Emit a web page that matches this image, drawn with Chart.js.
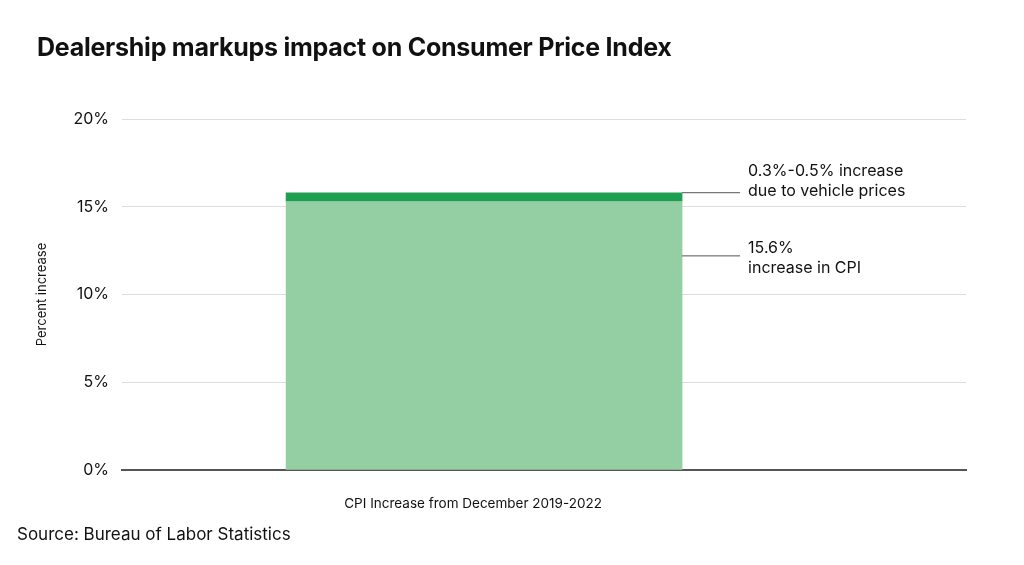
<!DOCTYPE html>
<html>
<head>
<meta charset="utf-8">
<script src="https://cdn.jsdelivr.net/npm/chart.js@4/dist/chart.umd.min.js"></script>
<style>
  html, body { margin: 0; padding: 0; background: #fff; }
  #wrap { position: relative; width: 1024px; height: 565px; font-family: Inter, "Noto Sans", sans-serif; color: #111; }
  #title { position: absolute; left: 37px; top: 32px; font-size: 25px; font-weight: 700; letter-spacing: -0.25px; }
  #source { position: absolute; left: 17px; top: 524px; font-size: 17px; }
  canvas { position: absolute; left: 0; top: 0; }
</style>
</head>
<body>
<div id="wrap">
  <canvas id="myChart" width="1024" height="565"></canvas>
  <div id="title">Dealership markups impact on Consumer Price Index</div>
  <div id="source">Source: Bureau of Labor Statistics</div>
</div>
<script>
// data
var categories = ['CPI Increase from December 2019-2022'];
var cpiBase = [15.3];
var vehiclePart = [0.5];
var yTicks = [0, 5, 10, 15, 20];
var noteLines = [
    ['0.3%-0.5% increase', 'due to vehicle prices'],
    ['15.6%', 'increase in CPI']
];
var noteValues = [15.8, 12.2];

// callout lines + text to the right of the bar
var notesPlugin = {
    id: 'notes',
    afterDatasetsDraw: function (chart) {
        var ctx = chart.ctx;
        var y = chart.scales.y;
        var bar = chart.getDatasetMeta(1).data[0];
        var x0 = bar.x + bar.width / 2;
        var shift = [-22, -8]; // first note sits above its line, second straddles it
        ctx.save();
        ctx.font = '16px Inter, "Noto Sans", sans-serif';
        ctx.fillStyle = '#111';
        ctx.textBaseline = 'middle';
        noteValues.forEach(function (v, i) {
            var py = y.getPixelForValue(v);
            ctx.strokeStyle = '#555';
            ctx.lineWidth = 1;
            ctx.beginPath();
            ctx.moveTo(x0, py);
            ctx.lineTo(x0 + 58, py);
            ctx.stroke();
            ctx.fillText(noteLines[i][0], x0 + 66, py + shift[i]);
            ctx.fillText(noteLines[i][1], x0 + 66, py + shift[i] + 20);
        });
        ctx.restore();
    }
};

document.addEventListener('DOMContentLoaded', function () {
    var ctx = document.getElementById('myChart').getContext('2d');
    var myChart = new Chart(ctx, {
        type: 'bar',
        data: {
            datasets: [{
                label: 'CPI',
                data: cpiBase.map(function (v, i) { return { x: i, y: v }; }),
                backgroundColor: '#94cfa4',
                barThickness: 396
            }, {
                label: 'Vehicle prices',
                data: vehiclePart.map(function (v, i) { return { x: i, y: v }; }),
                backgroundColor: '#1f9f52',
                barThickness: 396
            }]
        },
        options: {
            responsive: false,
            animation: false,
            layout: { padding: { top: 119, right: 58, left: 30, bottom: 0 } },
            plugins: { legend: { display: false }, tooltip: { enabled: false } },
            scales: {
                x: {
                    type: 'linear',
                    stacked: true,
                    offset: false,
                    min: -0.429,
                    max: 0.571,
                    afterBuildTicks: function (scale) {
                        scale.ticks = categories.map(function (c, i) { return { value: i }; });
                    },
                    afterFit: function (scale) { scale.height = 95; },
                    ticks: {
                        padding: 26,
                        labelOffset: -11,
                        color: '#111',
                        font: { family: 'Inter', size: 13.5 },
                        callback: function (v) { return categories[v]; }
                    },
                    grid: { display: false, drawTicks: false },
                    border: { display: true, color: '#555', width: 2 }
                },
                y: {
                    stacked: true,
                    min: 0,
                    max: 20,
                    afterBuildTicks: function (scale) {
                        scale.ticks = yTicks.map(function (v) { return { value: v }; });
                    },
                    afterFit: function (scale) { scale.width = 92; },
                    ticks: {
                        padding: 13,
                        color: '#111',
                        font: { family: 'Inter', size: 16 },
                        callback: function (v) { return v + '%'; }
                    },
                    grid: { color: '#dddddd', lineWidth: 1, drawTicks: false },
                    border: { display: false },
                    title: {
                        display: true,
                        text: 'Percent increase',
                        color: '#111',
                        font: { family: 'Inter', size: 13 },
                        padding: 4
                    }
                }
            }
        },
        plugins: [notesPlugin]
    });
});
</script>
</body>
</html>
